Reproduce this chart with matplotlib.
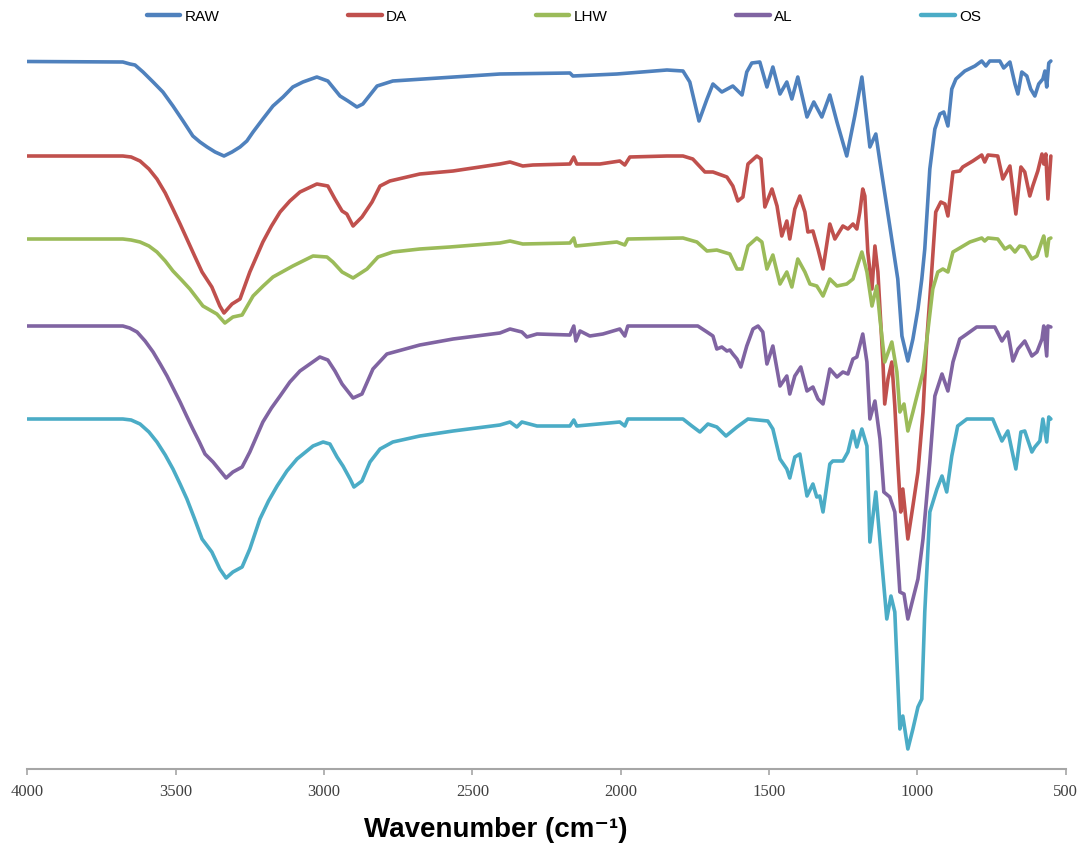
import matplotlib
matplotlib.use("Agg")
import matplotlib.pyplot as plt

# FTIR spectra, stacked (transmittance in arbitrary offset units)
raw_wn = [4000, 3678, 3654, 3637, 3610, 3576, 3543, 3509, 3475, 3442, 3418, 3394, 3367, 3337, 3310,
          3283, 3260, 3239, 3206, 3172, 3138, 3105, 3071, 3024, 2987, 2946,
          2919, 2889, 2869, 2821, 2768, 2407, 2171, 2161, 2013, 1844, 1790, 1767, 1736, 1709, 1689,
          1659, 1622, 1591, 1575, 1558, 1531, 1507, 1487, 1463, 1440, 1423, 1403, 1372, 1349, 1322,
          1295, 1271, 1238, 1211, 1187, 1160, 1140, 1126, 1093, 1066, 1052, 1032, 1015, 998, 985,
          975, 958, 941, 924, 911, 897, 884, 870, 840, 806, 783, 769, 756, 722, 709, 688, 671, 661,
          648, 631, 618, 604, 591, 577, 570, 564, 557, 550]
raw_t = [707.5, 707, 705, 704, 697, 687, 677, 663, 648, 633, 627, 622, 617, 613, 617,
         622, 628, 637, 650, 663, 672, 682, 687, 692, 688, 673,
         668, 662, 665, 683, 688, 695, 696, 693, 695, 699, 698, 687, 648, 670, 685,
         677, 683, 674, 697, 706, 707, 682, 702, 675, 687, 670, 692, 652, 667, 652,
         674, 647, 613, 653, 692, 622, 635, 607, 543, 490, 433, 408, 430, 460, 490,
         520, 600, 640, 655, 657, 643, 680, 690, 698, 703, 708, 703, 708, 708, 701, 707, 685, 675,
         697, 693, 680, 673, 685, 690, 698, 682, 706, 708]

da_wn = [4000, 3678, 3650, 3620, 3590, 3563, 3535, 3509, 3485, 3462, 3436, 3411, 3378, 3351, 3337,
         3310, 3283, 3250, 3206, 3177, 3148, 3115,
         3081, 3024, 2987, 2963, 2939, 2923, 2902, 2872, 2838, 2811, 2778, 2677, 2565, 2407, 2373,
         2330, 2296, 2171, 2158, 2148, 2070, 2003, 1986, 1969, 1844, 1790, 1757, 1716, 1689, 1642,
         1622, 1605, 1588, 1571, 1541, 1527, 1514, 1490, 1473, 1457, 1440, 1430, 1413, 1396, 1379,
         1369, 1352, 1335, 1318, 1295, 1278, 1251, 1234, 1217, 1204, 1194, 1184, 1177, 1167, 1153,
         1143, 1133, 1116, 1110, 1099, 1086, 1076, 1066, 1056, 1049, 1042, 1032, 1015, 998, 981,
         968, 955, 938, 921, 907, 897, 880, 857, 847, 813, 783, 773, 762, 729, 712,
         688, 668, 651, 638, 621, 611, 594, 580, 574, 567, 560, 550]
da_t = [613, 613, 612, 608, 600, 590, 576, 560, 545, 530, 513, 497, 482, 463, 456,
        465, 470, 497, 527, 543, 557, 568,
        577, 585, 583, 570, 558, 555, 543, 552, 567, 583, 588, 595, 598, 605, 607,
        603, 604, 605, 612, 605, 605, 608, 604, 612, 613, 613, 610, 597, 597, 592,
        583, 568, 572, 605, 613, 610, 562, 580, 563, 533, 548, 530, 560, 573, 557,
        537, 538, 520, 500, 545, 530, 543, 540, 545, 540, 557, 580, 573, 517, 480,
        523, 497, 407, 365, 390, 407, 363, 307, 257, 280, 260, 230, 263, 297, 357,
        430, 483, 557, 567, 565, 553, 597, 598, 602, 608, 614, 607, 614, 613, 590,
        603, 555, 602, 597, 573, 583, 598, 615, 605, 615, 570, 613]

lhw_wn = [4000, 3678, 3650, 3620, 3590, 3563, 3535, 3509, 3480, 3452, 3408, 3361, 3334, 3307, 3276,
          3239, 3205, 3172, 3105, 3037,
          2990, 2970, 2939, 2902, 2855, 2818, 2768, 2677, 2576, 2407, 2373, 2330, 2171, 2158, 2151,
          2013, 1986, 1976, 1790, 1743, 1709, 1676, 1632, 1608, 1591, 1571, 1541, 1524, 1507, 1487,
          1463, 1440, 1423, 1403, 1379, 1362, 1339, 1318, 1295, 1271, 1238, 1217, 1187, 1170, 1153,
          1137, 1126, 1110, 1086, 1069, 1059, 1045, 1032, 1015, 998, 981, 965, 948, 931, 914,
          897, 880, 857, 823, 783, 773, 762, 729, 705, 688, 671, 655, 638, 614, 597,
          580, 574, 564, 557, 550]
lhw_t = [530, 530, 529, 527, 523, 517, 508, 498, 489, 480, 463, 455, 446, 452, 454,
         473, 483, 492, 503, 513,
         512, 507, 497, 491, 500, 512, 517, 520, 522, 526, 528, 525, 526, 531, 523,
         527, 524, 530, 531, 527, 518, 519, 515, 500, 500, 523, 531, 527, 500, 514,
         485, 497, 482, 510, 497, 485, 483, 473, 490, 483, 485, 490, 517, 497, 463,
         483, 450, 407, 427, 397, 357, 365, 338, 357, 377, 397, 437, 480, 497, 500,
         497, 517, 521, 527, 531, 528, 531, 530, 520, 523, 517, 523, 522, 510, 513,
         528, 533, 513, 530, 531]

al_wn = [4000, 3678, 3655, 3630, 3603, 3576, 3552, 3529, 3507, 3485, 3463, 3442, 3420, 3401, 3374,
         3330, 3307, 3276, 3250, 3206, 3177, 3148, 3115,
         3081, 3014, 2987, 2963, 2939, 2902, 2872, 2835, 2788, 2677, 2565, 2407, 2373, 2333, 2316,
         2282, 2171, 2158, 2151, 2137, 2104, 2060, 2003, 1986, 1976, 1790, 1740, 1709, 1689, 1676,
         1659, 1642, 1632, 1622, 1608, 1595, 1575, 1554, 1537, 1521, 1507, 1487, 1463, 1440, 1430,
         1413, 1393, 1372, 1352, 1335, 1318, 1295, 1271, 1251, 1234, 1217, 1204, 1184, 1170, 1160,
         1143, 1126, 1113, 1093, 1076, 1059, 1045, 1032, 1015, 998, 981, 958, 941, 917, 897,
         880, 857, 833, 800, 739, 715, 695, 678, 661, 638, 614, 597, 580, 574, 564,
         560, 550]
al_t = [443, 443, 441, 437, 428, 417, 405, 393, 380, 367, 353, 340, 327, 315, 307,
        291, 297, 302, 317, 347, 361, 373, 387,
        398, 412, 409, 398, 385, 371, 375, 400, 415, 424, 430, 436, 440, 437, 432,
        435, 434, 443, 428, 438, 433, 435, 440, 433, 443, 443, 443, 437, 433, 420,
        422, 418, 419, 415, 410, 402, 423, 440, 443, 437, 405, 423, 383, 393, 375,
        393, 402, 378, 382, 370, 365, 400, 392, 397, 395, 410, 412, 435, 407, 350,
        368, 330, 277, 272, 257, 177, 175, 150, 170, 190, 230, 307, 373, 395, 378,
        407, 430, 435, 442, 442, 428, 437, 408, 420, 428, 413, 417, 430, 443, 413,
        443, 442]

os_wn = [4000, 3678, 3650, 3620, 3590, 3563, 3535, 3509, 3485, 3462, 3436, 3411, 3378, 3351, 3330,
         3307, 3276, 3250, 3216, 3187, 3158, 3125,
         3091, 3037, 3003, 2980, 2956, 2936, 2912, 2899, 2872, 2845, 2811, 2768, 2677, 2565, 2407,
         2373, 2350, 2333, 2282, 2171, 2158, 2148, 2003, 1986, 1976, 1790, 1760, 1733, 1706, 1676,
         1645, 1608, 1571, 1504, 1487, 1463, 1440, 1430, 1413, 1396, 1372, 1352, 1339, 1329, 1318,
         1295, 1285, 1251, 1234, 1217, 1204, 1187, 1170, 1160, 1140, 1120, 1103, 1089, 1076, 1059,
         1049, 1032, 1015, 998, 985, 975, 958, 934, 917, 901, 884, 864, 833, 746, 715,
         695, 668, 651, 638, 614, 604, 587, 577, 564, 557, 550]
os_t = [350, 350, 349, 345, 337, 327, 314, 300, 285, 270, 250, 230, 217, 200, 191,
        197, 202, 220, 250, 268, 283, 298,
        310, 323, 327, 325, 312, 303, 290, 282, 288, 307, 320, 327, 333, 338, 344,
        347, 342, 347, 343, 343, 349, 343, 347, 343, 350, 350, 343, 337, 345, 342,
        333, 342, 350, 348, 340, 310, 300, 291, 312, 315, 273, 285, 272, 273, 257,
        305, 308, 308, 317, 338, 322, 340, 323, 227, 277, 207, 150, 173, 157, 40,
        53, 20, 40, 62, 70, 157, 257, 280, 293, 277, 313, 343, 350, 350, 328,
        338, 300, 337, 338, 317, 322, 328, 350, 327, 352, 350]

series = [("RAW", raw_wn, raw_t, "#4F81BD"),
          ("DA", da_wn, da_t, "#C0504D"),
          ("LHW", lhw_wn, lhw_t, "#9BBB59"),
          ("AL", al_wn, al_t, "#8064A2"),
          ("OS", os_wn, os_t, "#4BACC6")]

fig = plt.figure(figsize=(10.79, 8.45), dpi=100)
ax = fig.add_axes([27.3 / 1079, 75 / 845, 1038.4 / 1079, 730 / 845])

for name, wn, t, col in series:
    ax.plot(wn, t, color=col, lw=2.6, label=name,
            solid_joinstyle="round", solid_capstyle="round")

ax.set_xlim(4000, 500)
ax.set_ylim(0, 730)
for side in ["top", "left", "right"]:
    ax.spines[side].set_visible(False)
ax.spines["bottom"].set_color("#a6a6a6")
ax.spines["bottom"].set_linewidth(1.5)
ax.set_yticks([])
ax.set_xticks(list(range(4000, 499, -500)))
ax.tick_params(axis="x", direction="out", length=4, width=1.2, color="#a6a6a6",
               labelcolor="#404040", pad=6, labelsize=12)
for lbl in ax.get_xticklabels():
    lbl.set_family(["Liberation Serif", "DejaVu Serif"])

leg = fig.legend(ncol=5, loc="center", bbox_to_anchor=(564 / 1079, 1 - 17 / 845),
                 frameon=False, handlelength=2.2, handletextpad=0.3, columnspacing=8.4,
                 prop={"family": ["Liberation Sans", "DejaVu Sans"], "size": 11})
for h in leg.get_lines():
    h.set_linewidth(3.2)

fig.text(496 / 1079, (845 - 830) / 845, "Wavenumber (cm\u207b\u00b9)", ha="center", va="center",
         fontsize=20, fontweight="bold", family=["Liberation Sans", "DejaVu Sans"])

fig.savefig("out.png", dpi=100)
